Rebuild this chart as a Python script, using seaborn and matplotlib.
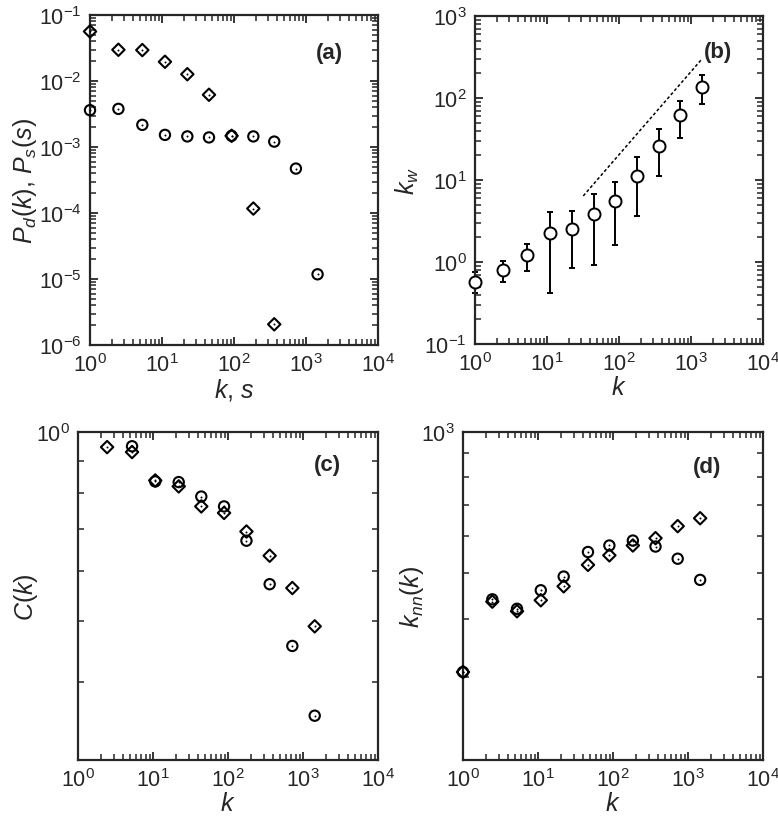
import numpy as np
import pandas as pd
import matplotlib
matplotlib.use("Agg")
import matplotlib.pyplot as plt
import seaborn as sns
from matplotlib.ticker import LogLocator, NullFormatter

# data
# (a) degree / strength distributions
k_a = [1, 2.48, 5.33, 11.0, 22.5, 45, 92.8, 186, 363]
pd_a = [0.0565, 0.0298, 0.0295, 0.0196, 0.0127, 0.0062, 0.00148, 1.17e-4, 2.06e-6]
s_a = [1, 2.48, 5.33, 11.0, 22.5, 45, 92.8, 186, 363, 726, 1452]
ps_a = [0.00362, 0.00379, 0.00217, 0.00153, 0.00145, 0.0014, 0.00148, 0.00145, 0.00121, 4.72e-4, 1.18e-5]

# (b) k_w vs k with error bars
k_b = [1, 2.48, 5.3, 11.0, 22.3, 44.8, 89.5, 177, 360, 715, 1450]
kw_b = [0.57, 0.79, 1.23, 2.27, 2.56, 3.80, 5.53, 11.3, 26.1, 62.5, 136]
kw_hi = [0.75, 1.02, 1.67, 4.09, 4.2, 6.67, 9.55, 19.1, 41.7, 92.7, 190]
kw_lo = [0.42, 0.569, 0.77, 0.417, 0.845, 0.91, 1.63, 3.62, 11.3, 32.4, 84.5]
guide_k = [32, 1430]
guide_kw = [6.4, 300]

# (c) clustering
k_c_d = [2.44, 5.25, 10.7, 22, 44, 88.5, 176, 359, 720, 1431]
c_d = [0.946, 0.929, 0.837, 0.819, 0.761, 0.743, 0.694, 0.635, 0.564, 0.490]
k_c_o = [5.25, 10.7, 22, 44, 88.5, 176, 359, 720, 1431]
c_o = [0.949, 0.834, 0.832, 0.789, 0.761, 0.671, 0.572, 0.456, 0.353]

# (d) average nearest-neighbour degree
k_d = [1, 2.46, 5.25, 10.9, 22, 46.4, 89.5, 184, 369, 729, 1452]
knn_d = [308, 435, 415, 438, 469, 521, 546, 573, 594, 630, 655]
knn_o = [308, 440, 420, 460, 492, 555, 573, 587, 570, 537, 484]

sns.set_style("ticks")
plt.rcParams["font.family"] = ["Liberation Sans", "DejaVu Sans"]
plt.rcParams["mathtext.fontset"] = "custom"
plt.rcParams["mathtext.rm"] = "Liberation Sans"
plt.rcParams["mathtext.it"] = "Liberation Sans:italic"
plt.rcParams["mathtext.bf"] = "Liberation Sans:bold"
plt.rcParams["axes.unicode_minus"] = False

fig = plt.figure(figsize=(7.78, 8.29), dpi=100)
ax_a = fig.add_axes([0.1157, 0.5826, 0.370, 0.398])
ax_b = fig.add_axes([0.6105, 0.5838, 0.370, 0.3957])
ax_c = fig.add_axes([0.1003, 0.0820, 0.3856, 0.3957])
ax_d = fig.add_axes([0.5951, 0.0820, 0.3856, 0.3957])

circ = dict(marker="o", s=55, facecolor="none", edgecolor="black", linewidth=1.5, clip_on=False, zorder=3)
diam = dict(marker="D", s=40, facecolor="none", edgecolor="black", linewidth=1.5, clip_on=False, zorder=3)
dot = dict(marker="o", s=2, color="black", linewidth=0, clip_on=False, zorder=4)


def marks(ax, x, y, style):
    sns.scatterplot(x=x, y=y, ax=ax, legend=False, **style)
    sns.scatterplot(x=x, y=y, ax=ax, legend=False, **dot)


def style_axis(ax, ylim, label, lx, ly):
    ax.set_xscale("log")
    ax.set_yscale("log")
    ax.set_xlim(1, 1e4)
    ax.set_ylim(*ylim)
    for sp in ax.spines.values():
        sp.set_visible(True)
        sp.set_linewidth(1.6)
    for a in (ax.xaxis, ax.yaxis):
        a.set_major_locator(LogLocator(base=10, numticks=20))
        a.set_minor_locator(LogLocator(base=10, subs=np.arange(2, 10), numticks=20))
        a.set_minor_formatter(NullFormatter())
    ax.tick_params(which="major", direction="in", length=6, width=1.3,
                   top=True, right=True, labelsize=15.5, pad=6)
    ax.tick_params(which="minor", direction="in", length=4, width=1.1,
                   top=True, right=True)
    ax.text(lx, ly, label, transform=ax.transAxes, fontsize=16,
            fontweight="bold", ha="center", va="center")


# (a)
marks(ax_a, k_a, pd_a, diam)
marks(ax_a, s_a, ps_a, circ)
style_axis(ax_a, (1e-6, 1e-1), "(a)", 0.83, 0.888)
ax_a.set_xlabel("$k$, $s$", fontsize=18, labelpad=0)
ax_a.set_ylabel("$P_d(k)$, $P_s(s)$", fontsize=18, labelpad=0)

# (b)
kw_arr = np.array(kw_b)
yerr = [kw_arr - np.array(kw_lo), np.array(kw_hi) - kw_arr]
ax_b.errorbar(k_b, kw_b, yerr=yerr, fmt="none", ecolor="black",
              elinewidth=1.4, capsize=2.5, capthick=1.4, clip_on=False, zorder=2)
sns.scatterplot(x=k_b, y=kw_b, ax=ax_b, legend=False,
                marker="o", s=75, facecolor="white", edgecolor="black",
                linewidth=1.4, clip_on=False, zorder=3)
sns.lineplot(x=guide_k, y=guide_kw, ax=ax_b, color="black",
             linestyle=(0, (2, 1.5)), linewidth=1.1)
style_axis(ax_b, (1e-1, 1e3), "(b)", 0.844, 0.893)
ax_b.set_xlabel("$k$", fontsize=18, labelpad=0)
ax_b.set_ylabel("$k_w$", fontsize=18, labelpad=2)

# (c)
marks(ax_c, k_c_d, c_d, diam)
marks(ax_c, k_c_o, c_o, circ)
style_axis(ax_c, (0.3, 1.0), "(c)", 0.83, 0.9)
ax_c.set_xlabel("$k$", fontsize=18, labelpad=0)
ax_c.set_ylabel("$C(k)$", fontsize=18, labelpad=-3)

# (d)
marks(ax_d, k_d, knn_d, diam)
marks(ax_d, k_d, knn_o, circ)
style_axis(ax_d, (200, 1000), "(d)", 0.813, 0.896)
ax_d.set_xlabel("$k$", fontsize=18, labelpad=0)
ax_d.set_ylabel("$k_{nn}(k)$", fontsize=18, labelpad=-4)

fig.savefig("out.png", dpi=100)
